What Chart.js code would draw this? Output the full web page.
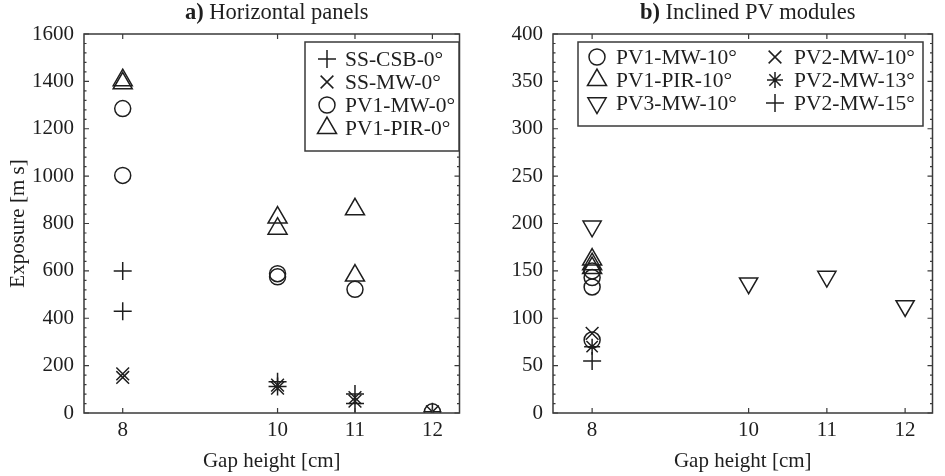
<!DOCTYPE html>
<html><head><meta charset="utf-8">
<script src="https://cdn.jsdelivr.net/npm/chart.js@4.4.0/dist/chart.umd.min.js"></script>
<style>
html,body{margin:0;padding:0;background:#fff;}
#wrap{position:relative;width:945px;height:476px;overflow:hidden;}
#c1{position:absolute;left:0;top:0;}
#c2{position:absolute;left:472px;top:0;}
</style></head><body>
<div id="wrap"><canvas id="c1" width="472" height="476"></canvas><canvas id="c2" width="473" height="476"></canvas></div>
<script>
// ---------- data ----------
const gapTicks = [8, 10, 11, 12];
const yTicksA = [0, 200, 400, 600, 800, 1000, 1200, 1400, 1600];
const yTicksB = [0, 50, 100, 150, 200, 250, 300, 350, 400];

// Panel a) Horizontal panels
const labelsA = ['SS-CSB-0°', 'SS-MW-0°', 'PV1-MW-0°', 'PV1-PIR-0°'];
const ssCsbX = [8, 8, 10, 10, 11, 11, 12];
const ssCsbY = [600, 430, 132, 112, 80, 40, 5];
const ssMwX = [8, 8, 10, 10, 11, 11, 12];
const ssMwY = [165, 150, 118, 105, 65, 50, 5];
const pv1MwX = [8, 8, 10, 10, 11, 12];
const pv1MwY = [1285, 1003, 588, 575, 522, 5];
const pv1PirX = [8, 8, 10, 10, 11, 11];
const pv1PirY = [1405, 1392, 825, 778, 860, 580];

// Panel b) Inclined PV modules
const labelsB = ['PV1-MW-10°', 'PV1-PIR-10°', 'PV3-MW-10°', 'PV2-MW-10°', 'PV2-MW-13°', 'PV2-MW-15°'];
const pv1Mw10X = [8, 8, 8, 8];
const pv1Mw10Y = [150, 143, 133, 77];
const pv1Pir10X = [8, 8, 8];
const pv1Pir10Y = [162, 157, 153];
const pv3Mw10X = [8, 10, 11, 12];
const pv3Mw10Y = [197, 137, 144, 113];
const pv2Mw10X = [8];
const pv2Mw10Y = [84];
const pv2Mw13X = [8];
const pv2Mw13Y = [70];
const pv2Mw15X = [8];
const pv2Mw15Y = [55];

// ---------- helpers ----------
const INK = '#1e1e1e';
const AXC = '#3a3a3a';
const SERIF = '"Liberation Serif", "Times New Roman", serif';
const pts = (xs, ys) => xs.map((x, i) => ({x: x, y: ys[i]}));

function ds(label, xs, ys, style, r, rot) {
  return {
    label: label, data: pts(xs, ys), pointStyle: style, pointRadius: r, pointHoverRadius: r,
    pointRotation: rot || 0, pointBorderColor: INK, pointBackgroundColor: 'rgba(0,0,0,0)',
    pointBorderWidth: 1.5, showLine: false
  };
}

function drawMarker(ctx, d, x, y) {
  ctx.save();
  ctx.strokeStyle = INK; ctx.fillStyle = 'rgba(0,0,0,0)'; ctx.lineWidth = d.pointBorderWidth;
  if (Chart.helpers && Chart.helpers.drawPoint) {
    Chart.helpers.drawPoint(ctx, {pointStyle: d.pointStyle, rotation: d.pointRotation, radius: d.pointRadius, borderWidth: d.pointBorderWidth}, x, y);
  }
  ctx.restore();
}

const framePlugin = {
  id: 'frame',
  afterDatasetsDraw(chart, args, opts) {
    const {ctx, chartArea: a, scales} = chart;
    ctx.save();
    ctx.strokeStyle = AXC; ctx.lineWidth = 1.5;
    ctx.strokeRect(a.left, a.top, a.right - a.left, a.bottom - a.top);
    ctx.lineWidth = 1.2;
    ctx.beginPath();
    gapTicks.forEach(v => {
      const px = scales.x.getPixelForValue(v);
      ctx.moveTo(px, a.bottom); ctx.lineTo(px, a.bottom - 5);
      ctx.moveTo(px, a.top); ctx.lineTo(px, a.top + 5);
    });
    const yt = opts.major;
    for (let i = 0; i < yt.length; i++) {
      const py = scales.y.getPixelForValue(yt[i]);
      ctx.moveTo(a.left, py); ctx.lineTo(a.left + 5, py);
      ctx.moveTo(a.right, py); ctx.lineTo(a.right - 5, py);
      if (i < yt.length - 1) {
        const step = (yt[i + 1] - yt[i]) / 5;
        for (let k = 1; k < 5; k++) {
          const pm = scales.y.getPixelForValue(yt[i] + k * step);
          ctx.moveTo(a.left, pm); ctx.lineTo(a.left + 2.5, pm);
          ctx.moveTo(a.right, pm); ctx.lineTo(a.right - 2.5, pm);
        }
      }
    }
    ctx.stroke();
    ctx.restore();
  }
};

const titlePlugin = {
  id: 'ptitle',
  afterDraw(chart, args, opts) {
    const {ctx, chartArea: a} = chart;
    ctx.save();
    ctx.fillStyle = INK; ctx.textBaseline = 'middle';
    const bold = 'bold 22.5px ' + SERIF, norm = '22.5px ' + SERIF;
    ctx.font = bold; const w1 = ctx.measureText(opts.letter).width;
    ctx.font = norm; const w2 = ctx.measureText(opts.text).width;
    let x = (a.left + a.right) / 2 - (w1 + w2) / 2 + opts.dx;
    ctx.font = bold; ctx.textAlign = 'left'; ctx.fillText(opts.letter, x, opts.y);
    ctx.font = norm; ctx.fillText(opts.text, x + w1, opts.y);
    ctx.restore();
  }
};

const legendPlugin = {
  id: 'plegend',
  afterDraw(chart, args, opts) {
    const {ctx} = chart;
    const b = opts.box;
    ctx.save();
    ctx.fillStyle = '#fff';
    ctx.fillRect(b[0], b[1], b[2] - b[0], b[3] - b[1]);
    ctx.strokeStyle = AXC; ctx.lineWidth = 1.5;
    ctx.strokeRect(b[0], b[1], b[2] - b[0], b[3] - b[1]);
    ctx.font = '21.5px ' + SERIF; ctx.fillStyle = INK; ctx.textBaseline = 'middle'; ctx.textAlign = 'left';
    chart.data.datasets.forEach((d, i) => {
      const e = opts.items[i];
      drawMarker(ctx, d, e[0], e[2]);
      ctx.fillStyle = INK;
      ctx.fillText(d.label, e[1], e[2] + 1);
    });
    ctx.restore();
  }
};

function makeOptions(cfg) {
  return {
    responsive: false, animation: false, devicePixelRatio: 1,
    layout: {padding: {top: 34, right: cfg.padRight, bottom: 0, left: 0}},
    plugins: {
      legend: {display: false}, tooltip: {enabled: false}, title: {display: false},
      frame: {major: cfg.yTicks},
      ptitle: cfg.title,
      plegend: cfg.legend
    },
    scales: {
      x: {
        type: 'linear', min: 7.5, max: 12.35,
        afterBuildTicks: s => { s.ticks = gapTicks.map(v => ({value: v})); },
        afterFit: s => { s.height = 63; },
        grid: {display: false, drawTicks: false}, border: {display: false},
        ticks: {color: INK, font: {family: SERIF, size: 21}, padding: 5, maxRotation: 0, autoSkip: false,
                callback: v => String(v)},
        title: {display: true, text: 'Gap height [cm]', color: INK, font: {family: SERIF, size: 21}, padding: {top: 0, bottom: 2}}
      },
      y: {
        type: 'linear', min: 0, max: cfg.yMax,
        afterBuildTicks: s => { s.ticks = cfg.yTicks.map(v => ({value: v})); },
        afterFit: s => { s.width = cfg.yWidth; },
        grid: {display: false, drawTicks: false}, border: {display: false},
        ticks: {color: INK, font: {family: SERIF, size: 21}, padding: 10, autoSkip: false,
                callback: v => String(v)},
        title: {display: cfg.yTitle !== '', text: cfg.yTitle, color: INK, font: {family: SERIF, size: 21}, padding: {top: 6, bottom: 0}}
      }
    }
  };
}

new Chart(document.getElementById('c1'), {
  type: 'scatter',
  data: {datasets: [
    ds(labelsA[0], ssCsbX, ssCsbY, 'cross', 9),
    ds(labelsA[1], ssMwX, ssMwY, 'crossRot', 9),
    ds(labelsA[2], pv1MwX, pv1MwY, 'circle', 8),
    ds(labelsA[3], pv1PirX, pv1PirY, 'triangle', 11)
  ]},
  options: makeOptions({
    padRight: 9, yWidth: 84, yMax: 1600, yTicks: yTicksA, yTitle: 'Exposure [m s]',
    title: {letter: 'a)', text: ' Horizontal panels', y: 13, dx: 5},
    legend: {box: [305, 42, 459, 151], items: [[327, 345, 59], [327, 345, 82], [327, 345, 105], [327, 345, 128]]}
  }),
  plugins: [framePlugin, titlePlugin, legendPlugin]
});

new Chart(document.getElementById('c2'), {
  type: 'scatter',
  data: {datasets: [
    ds(labelsB[0], pv1Mw10X, pv1Mw10Y, 'circle', 8),
    ds(labelsB[1], pv1Pir10X, pv1Pir10Y, 'triangle', 11),
    ds(labelsB[2], pv3Mw10X, pv3Mw10Y, 'triangle', 10.5, 180),
    ds(labelsB[3], pv2Mw10X, pv2Mw10Y, 'crossRot', 9),
    ds(labelsB[4], pv2Mw13X, pv2Mw13Y, 'star', 8),
    ds(labelsB[5], pv2Mw15X, pv2Mw15Y, 'cross', 9)
  ]},
  options: makeOptions({
    padRight: 10, yWidth: 81, yMax: 400, yTicks: yTicksB, yTitle: '',
    title: {letter: 'b)', text: ' Inclined PV modules', y: 13, dx: 5},
    legend: {box: [106, 42, 451, 126], items: [[125, 144, 57], [125, 144, 80], [125, 144, 103], [303, 322, 57], [303, 322, 80], [303, 322, 103]]}
  }),
  plugins: [framePlugin, titlePlugin, legendPlugin]
});
</script>
</body></html>
